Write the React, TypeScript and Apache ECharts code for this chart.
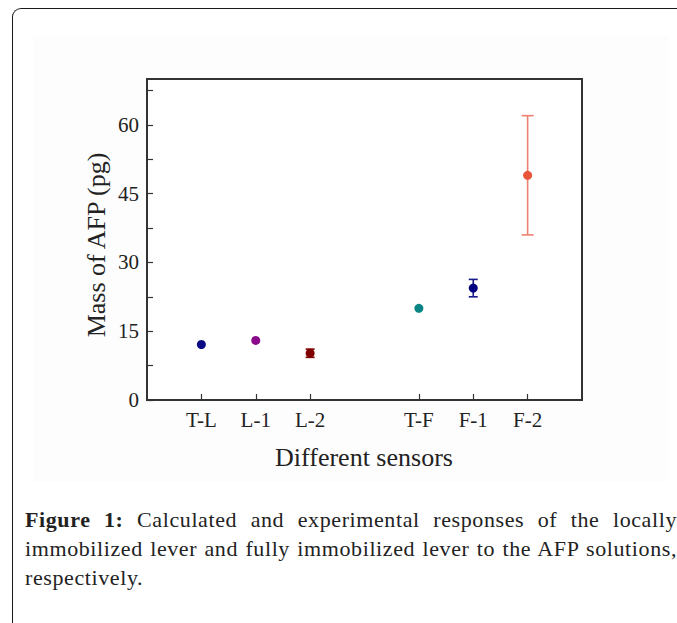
import React, { useEffect, useRef } from "react";
import * as echarts from "echarts";

const sensors = ["T-L", "L-1", "L-2", "T-F", "F-1", "F-2"];
const sensorPositions = [1, 2, 3, 5, 6, 7];
const massValues = [12.1, 13.0, 10.2, 20.0, 24.4, 49.0];
const massErrors = [0, 0, 0.9, 0, 1.9, 13.0];
const pointColors = ["#0b0b84", "#8b0a8b", "#800000", "#0a8585", "#000080", "#e8553a"];
const errorColors = ["#0b0b84", "#8b0a8b", "#800000", "#0a8585", "#1a1a8a", "#ef7f70"];
const yTickLabels = [0, 15, 30, 45, 60];
const yTickMarks = [0, 7.5, 15, 22.5, 30, 37.5, 45, 52.5, 60, 67.5];
const xTitle = "Different sensors";
const yTitle = "Mass of AFP (pg)";
const captionLines = [
  "Calculated and experimental responses of the locally",
  "immobilized lever and fully immobilized lever to the AFP solutions,",
  "respectively.",
];

const SERIF = '"Liberation Serif", "Times New Roman", serif';

function Chart() {
  const ref = useRef<HTMLDivElement>(null);
  useEffect(() => {
    if (!ref.current) return;
    const chart = echarts.init(ref.current, null, { renderer: "svg" });
    const points = sensorPositions.map((x, i) => ({
      value: [x, massValues[i]],
      itemStyle: { color: pointColors[i], opacity: 1 },
    }));
    const errData = sensorPositions
      .map((x, i) => [x, massValues[i], massErrors[i], i])
      .filter((d) => d[2] > 0);
    chart.setOption({
      animation: false,
      grid: {
        left: 147,
        right: 95,
        top: 79,
        bottom: 223,
        show: true,
        borderColor: "#333",
        borderWidth: 2,
        backgroundColor: "#ffffff",
      },
      xAxis: {
        type: "value",
        min: 0,
        max: 8,
        splitLine: { show: false },
        axisLine: { show: true, lineStyle: { color: "#333", width: 2 } },
        axisTick: {
          show: true,
          inside: true,
          length: 6,
          customValues: sensorPositions,
          lineStyle: { color: "#333", width: 1.2 },
        },
        axisLabel: {
          customValues: sensorPositions,
          formatter: (v: number) => {
            const idx = sensorPositions.indexOf(Math.round(v));
            return idx >= 0 ? sensors[idx] : "";
          },
          fontFamily: SERIF,
          fontSize: 21,
          color: "#222",
          margin: 9,
        },
      },
      yAxis: {
        type: "value",
        min: 0,
        max: 70,
        interval: 15,
        splitLine: { show: false },
        axisLine: { show: true, lineStyle: { color: "#333", width: 2 } },
        axisTick: {
          show: true,
          inside: true,
          length: 6,
          customValues: yTickMarks,
          lineStyle: { color: "#333", width: 1.2 },
        },
        axisLabel: {
          customValues: yTickLabels,
          fontFamily: SERIF,
          fontSize: 21,
          color: "#222",
          margin: 8,
        },
      },
      graphic: [
        {
          type: "text",
          x: 364,
          y: 457,
          style: {
            text: xTitle,
            fontFamily: SERIF,
            fontSize: 26,
            fill: "#222",
            align: "center",
            verticalAlign: "middle",
          },
        },
        {
          type: "text",
          x: 96,
          y: 245,
          rotation: Math.PI / 2,
          style: {
            text: yTitle,
            fontFamily: SERIF,
            fontSize: 26,
            fill: "#222",
            align: "center",
            verticalAlign: "middle",
          },
        },
      ],
      series: [
        {
          type: "custom",
          data: errData,
          z: 2,
          renderItem: (params: any, api: any) => {
            const x = api.value(0);
            const y = api.value(1);
            const e = api.value(2);
            const idx = api.value(3);
            const top = api.coord([x, y + e]);
            const bot = api.coord([x, y - e]);
            const half = e > 5 ? 6 : 4.5;
            const color = errorColors[idx];
            const style = { stroke: color, lineWidth: 1.6 };
            return {
              type: "group",
              children: [
                { type: "line", shape: { x1: top[0], y1: top[1], x2: bot[0], y2: bot[1] }, style },
                { type: "line", shape: { x1: top[0] - half, y1: top[1], x2: top[0] + half, y2: top[1] }, style },
                { type: "line", shape: { x1: bot[0] - half, y1: bot[1], x2: bot[0] + half, y2: bot[1] }, style },
              ],
            };
          },
        },
        {
          type: "scatter",
          data: points,
          symbol: "circle",
          symbolSize: 9,
          itemStyle: { opacity: 1 },
          z: 3,
        },
      ],
    });
    return () => chart.dispose();
  }, []);
  return <div ref={ref} style={{ position: "absolute", left: 0, top: 0, width: 677, height: 623 }} />;
}

export default function App() {
  const lineStyle: React.CSSProperties = {
    textAlign: "justify",
    textAlignLast: "justify",
    height: 29,
    lineHeight: "29px",
  };
  return (
    <div
      style={{
        position: "fixed",
        left: 0,
        top: 0,
        width: 677,
        height: 623,
        overflow: "hidden",
        background: "#ffffff",
      }}
    >
      <div
        style={{
          position: "absolute",
          left: 12,
          top: 8,
          width: 800,
          height: 800,
          borderLeft: "1.6px solid #1a1a1a",
          borderTop: "1.6px solid #1a1a1a",
          borderTopLeftRadius: 9,
          boxSizing: "border-box",
        }}
      />
      <div
        style={{
          position: "absolute",
          left: 33,
          top: 35,
          width: 635,
          height: 447,
          background: "#fdfdfd",
        }}
      />
      <Chart />
      <div
        style={{
          position: "absolute",
          left: 25,
          top: 505,
          width: 652,
          fontFamily: SERIF,
          fontSize: 22,
          letterSpacing: "0.6px",
          color: "#222",
        }}
      >
        <div style={{ ...lineStyle, whiteSpace: "nowrap" }}>
          <b>Figure 1:</b> {captionLines[0]}
        </div>
        <div style={{ ...lineStyle, whiteSpace: "nowrap" }}>{captionLines[1]}</div>
        <div style={{ ...lineStyle, textAlignLast: "left", whiteSpace: "nowrap" }}>{captionLines[2]}</div>
      </div>
    </div>
  );
}
